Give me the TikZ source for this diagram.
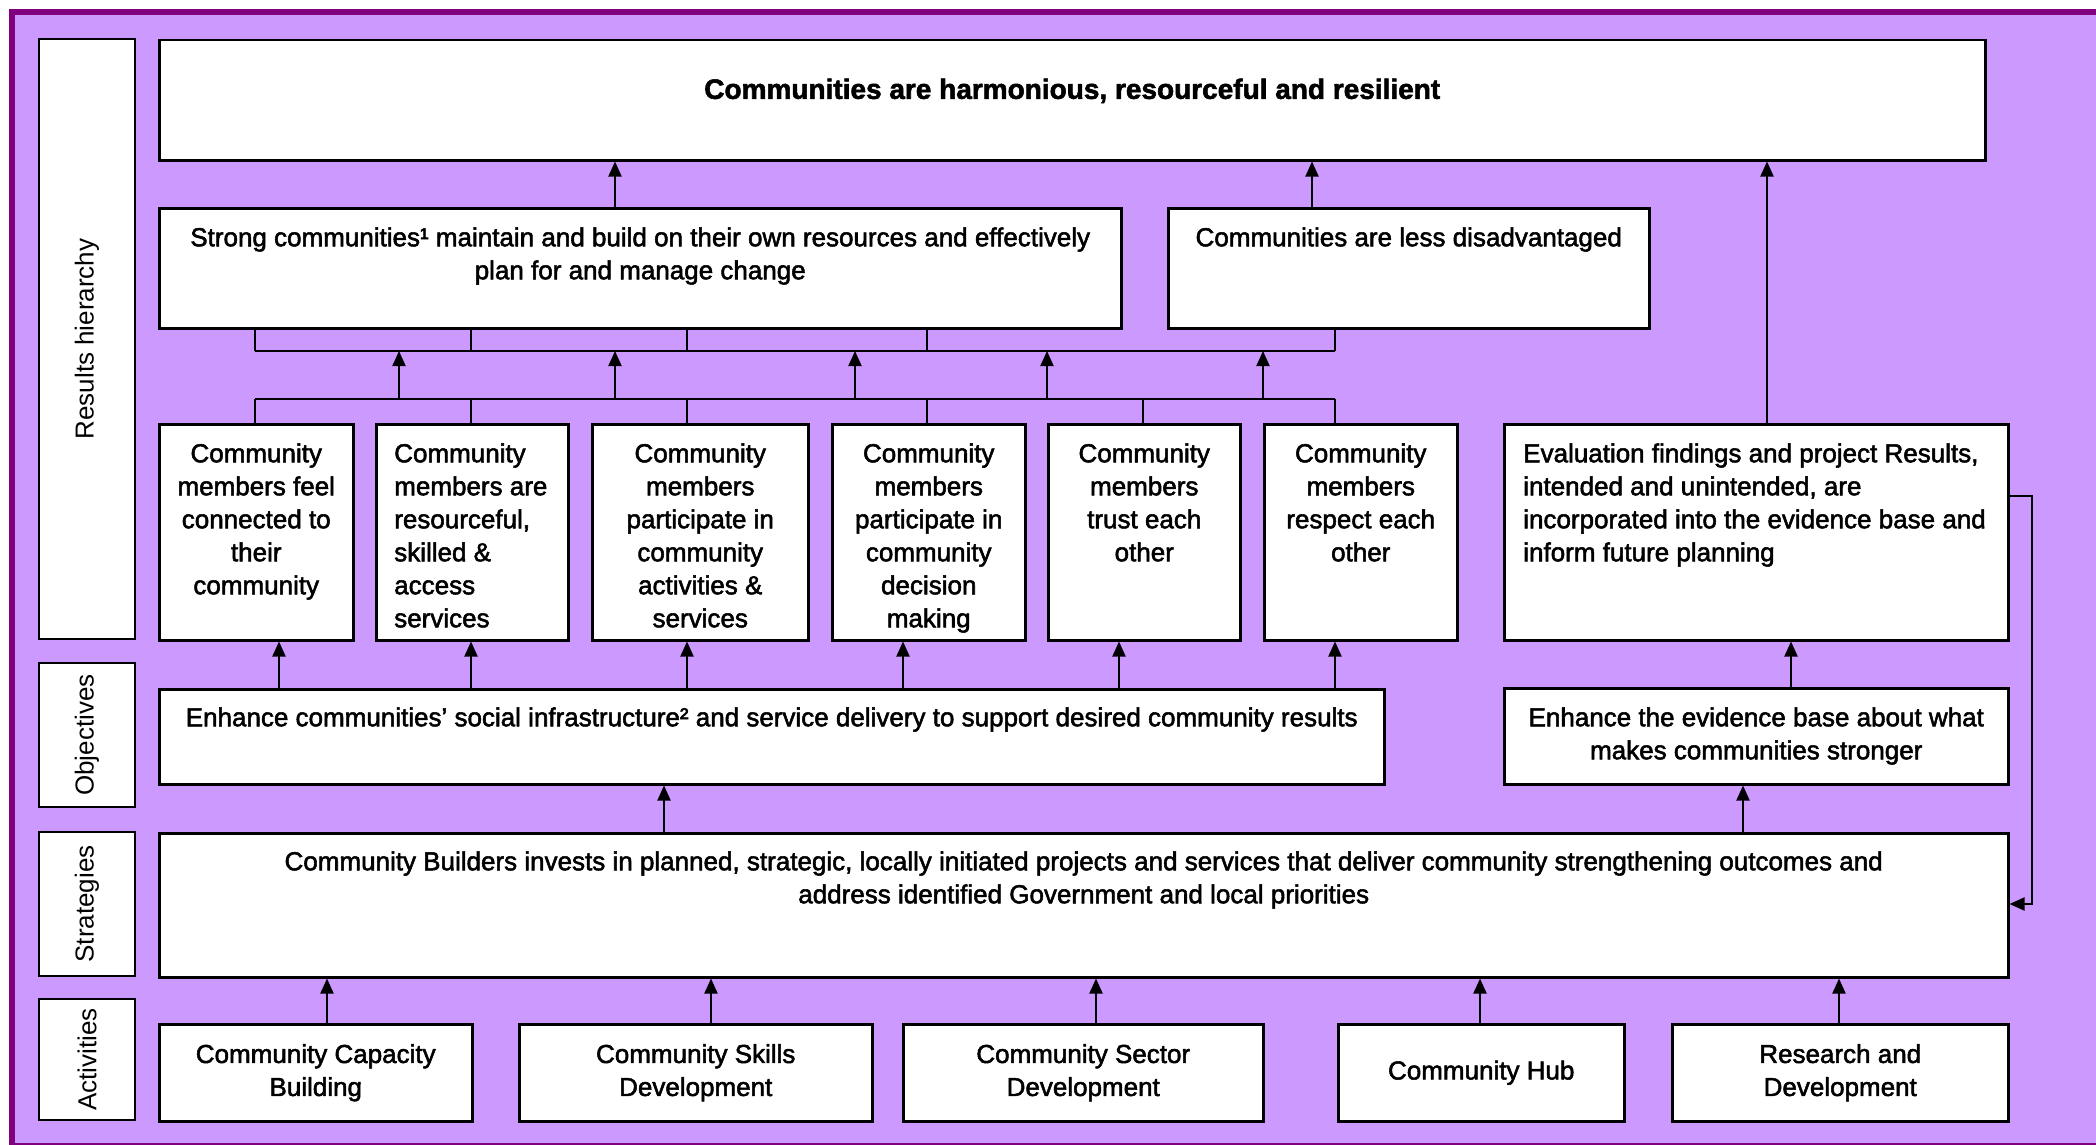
\documentclass[tikz,border=0pt]{standalone}
\usepackage{fontspec}
\setmainfont{Liberation Sans}
\newfontfamily\heavyfont{Liberation Sans}[FakeBold=2]
\usetikzlibrary{arrows.meta}
\definecolor{bgpurple}{HTML}{CC99FF}
\definecolor{framepurple}{HTML}{800080}
\newcommand\bxt[4]{\begin{minipage}[c][#2pt][t]{#1pt}\vspace*{#3pt}#4\end{minipage}}
\begin{document}
\begin{tikzpicture}[x=1pt,y=-1pt,
  bx/.style={draw=black, line width=2.5pt, fill=white, inner sep=0pt, anchor=north west, font=\heavyfont\fontsize{26}{33}\selectfont},
  actbox/.style={draw=black, line width=2.5pt, fill=white, inner sep=0pt, anchor=north west, align=center, minimum height=97pt, font=\heavyfont\fontsize{26}{33}\selectfont},
  lbl/.style={draw=black, line width=2.5pt, fill=white, inner sep=0pt, rotate=90, minimum height=96pt, font=\fontsize{26}{33}\selectfont},
  conn/.style={line width=2pt},
  arr/.style={line width=2pt, -{Triangle[length=15pt,width=13pt]}}]
\useasboundingbox (0,0) rectangle (2096,1145);
\fill[white] (0,0) rectangle (2096,1145);
\draw[line width=6pt, draw=framepurple, fill=bgpurple] (12,12) rectangle (2115,1146);

% side labels
\node[lbl, minimum width=600pt] (lres) at (87,339) {Results hierarchy};
\node[lbl, minimum width=144pt] (lobj) at (87,735) {Objectives};
\node[lbl, minimum width=144pt] (lstr) at (87,904) {Strategies};
\node[lbl, minimum width=121pt] (lact) at (87,1059.5) {Activities};

% results hierarchy
\node[bx] (goal) at (158,39) {\bxt{1826}{120}{35.5}{\centering\fontsize{28}{33}\selectfont\bfseries\strut Communities are harmonious, resourceful and resilient}};
\node[bx] (strong) at (158,207) {\bxt{962}{120}{14.9}{\centering\strut Strong communities¹ maintain and build on their own resources and effectively\\plan for and manage change}};
\node[bx] (disadv) at (1167,207) {\bxt{481}{120}{14.9}{\centering\strut Communities are less disadvantaged}};

\node[bx] (r1) at (158,423) {\bxt{194}{216}{14.9}{\centering\strut Community\\members feel\\connected to\\their\\community}};
\node[bx] (r2) at (375,423) {\bxt{192}{216}{14.9}{\raggedright\leftskip=18pt\strut Community\\members are\\resourceful,\\skilled \&\\access\\services}};
\node[bx] (r3) at (591,423) {\bxt{216}{216}{14.9}{\centering\strut Community\\members\\participate in\\community\\activities \&\\services}};
\node[bx] (r4) at (831,423) {\bxt{193}{216}{14.9}{\centering\strut Community\\members\\participate in\\community\\decision\\making}};
\node[bx] (r5) at (1047,423) {\bxt{192}{216}{14.9}{\centering\strut Community\\members\\trust each\\other}};
\node[bx] (r6) at (1263,423) {\bxt{193}{216}{14.9}{\centering\strut Community\\members\\respect each\\other}};
\node[bx] (evalb) at (1503,423) {\bxt{504}{216}{14.9}{\raggedright\leftskip=19pt\strut Evaluation findings and project Results,\\intended and unintended, are\\incorporated into the evidence base and\\inform future planning}};

% objectives
\node[bx] (obj) at (158,688) {\bxt{1225}{95}{13.9}{\centering\strut Enhance communities’ social infrastructure² and service delivery to support desired community results}};
\node[bx] (evid) at (1503,687) {\bxt{504}{96}{14.9}{\centering\strut Enhance the evidence base about what\\makes communities stronger}};

% strategies
\node[bx] (strat) at (158,832) {\bxt{1849}{144}{13.9}{\centering\strut Community Builders invests in planned, strategic, locally initiated projects and services that deliver community strengthening outcomes and\\address identified Government and local priorities}};

% activities
\node[actbox, minimum width=313pt] (a1) at (158,1023) {Community Capacity\\Building};
\node[actbox, minimum width=353pt] (a2) at (518,1023) {Community Skills\\Development};
\node[actbox, minimum width=360pt] (a3) at (902,1023) {Community Sector\\Development};
\node[actbox, minimum width=286pt] (a4) at (1337,1023) {Community Hub};
\node[actbox, minimum width=336pt] (a5) at (1671,1023) {Research and\\Development};

% helper coordinates
\coordinate (ub) at (0,351);
\coordinate (lb) at (0,399);
\coordinate (b1) at (255,0);
\coordinate (b2) at (471,0);
\coordinate (b3) at (687,0);
\coordinate (b4) at (927,0);
\coordinate (b5) at (1143,0);
\coordinate (b6) at (1335,0);
\coordinate (m1) at (399,0);
\coordinate (m2) at (615,0);
\coordinate (m3) at (855,0);
\coordinate (m4) at (1047,0);
\coordinate (m5) at (1263,0);
\coordinate (o1) at (279,0);
\coordinate (o2) at (471,0);
\coordinate (o3) at (687,0);
\coordinate (o4) at (903,0);
\coordinate (o5) at (1119,0);
\coordinate (o6) at (1335,0);
\coordinate (t1) at (615,0);
\coordinate (t2) at (1312,0);
\coordinate (t3) at (1767,0);
\coordinate (e1) at (1791,0);
\coordinate (s1) at (664,0);
\coordinate (s2) at (1743,0);
\coordinate (c1) at (327,0);
\coordinate (c2) at (711,0);
\coordinate (c3) at (1096,0);
\coordinate (c4) at (1480,0);
\coordinate (c5) at (1839,0);
\coordinate (fbx) at (2032,0);
\coordinate (fy1) at (0,496);
\coordinate (fy2) at (0,904);

% to goal
\draw[arr] (t1 |- strong.north) -- (t1 |- goal.south);
\draw[arr] (t2 |- disadv.north) -- (t2 |- goal.south);
\draw[arr] (t3 |- evalb.north) -- (t3 |- goal.south);

% upper bracket
\draw[conn] (b1 |- ub) -- (b6 |- ub);
\draw[conn] (b1 |- strong.south) -- (b1 |- ub);
\draw[conn] (b2 |- strong.south) -- (b2 |- ub);
\draw[conn] (b3 |- strong.south) -- (b3 |- ub);
\draw[conn] (b4 |- strong.south) -- (b4 |- ub);
\draw[conn] (b6 |- disadv.south) -- (b6 |- ub);

% lower bracket
\draw[conn] (b1 |- lb) -- (b6 |- lb);
\draw[conn] (b1 |- lb) -- (b1 |- r1.north);
\draw[conn] (b2 |- lb) -- (b2 |- r2.north);
\draw[conn] (b3 |- lb) -- (b3 |- r3.north);
\draw[conn] (b4 |- lb) -- (b4 |- r4.north);
\draw[conn] (b5 |- lb) -- (b5 |- r5.north);
\draw[conn] (b6 |- lb) -- (b6 |- r6.north);

% between brackets
\foreach \m in {m1,m2,m3,m4,m5} \draw[arr] (\m |- lb) -- (\m |- ub);

% objective to results
\draw[arr] (o1 |- obj.north) -- (o1 |- r1.south);
\draw[arr] (o2 |- obj.north) -- (o2 |- r2.south);
\draw[arr] (o3 |- obj.north) -- (o3 |- r3.south);
\draw[arr] (o4 |- obj.north) -- (o4 |- r4.south);
\draw[arr] (o5 |- obj.north) -- (o5 |- r5.south);
\draw[arr] (o6 |- obj.north) -- (o6 |- r6.south);
\draw[arr] (e1 |- evid.north) -- (e1 |- evalb.south);

% strategy to objectives
\draw[arr] (s1 |- strat.north) -- (s1 |- obj.south);
\draw[arr] (s2 |- strat.north) -- (s2 |- evid.south);

% activities to strategy
\draw[arr] (c1 |- a1.north) -- (c1 |- strat.south);
\draw[arr] (c2 |- a2.north) -- (c2 |- strat.south);
\draw[arr] (c3 |- a3.north) -- (c3 |- strat.south);
\draw[arr] (c4 |- a4.north) -- (c4 |- strat.south);
\draw[arr] (c5 |- a5.north) -- (c5 |- strat.south);

% feedback loop
\draw[arr] (evalb.east |- fy1) -- (fbx |- fy1) -- (fbx |- fy2) -- (strat.east |- fy2);
\end{tikzpicture}
\end{document}
